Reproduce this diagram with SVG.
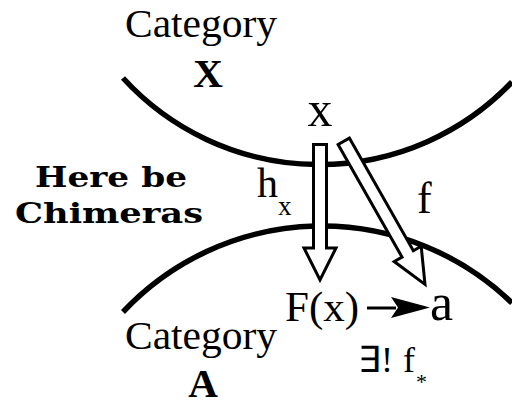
<svg xmlns="http://www.w3.org/2000/svg" width="512" height="405" viewBox="0 0 512 405">
<style>
.t{font-family:'Liberation Serif','Times New Roman',serif;fill:#000}
.b{font-weight:bold}
.frak{font-family:'DejaVu Serif',serif;font-weight:bold;fill:#000}
.bound{fill:none;stroke:#000;stroke-width:5.5}
.blk{fill:#fff;stroke:#000;stroke-width:3;stroke-linejoin:miter}
</style>
<rect width="512" height="405" fill="#fff"/>
<g id="boundaries">
<path class="bound" d="M123,78 A266,266 0 0 0 512,82"/>
<path class="bound" d="M123,312 A273,273 0 0 1 512,303"/>
</g>
<g id="categoryX">
<text class="t" x="201" y="37" font-size="40" text-anchor="middle" textLength="152" lengthAdjust="spacingAndGlyphs">Category</text>
<text class="t b" x="208" y="87" font-size="41" text-anchor="middle">X</text>
</g>
<g id="categoryA">
<text class="t" x="201" y="349" font-size="40" text-anchor="middle" textLength="152" lengthAdjust="spacingAndGlyphs">Category</text>
<text class="t b" x="203" y="397" font-size="41" text-anchor="middle">A</text>
</g>
<g id="chimeras">
<text class="frak" x="35" y="187" font-size="28" textLength="152" lengthAdjust="spacingAndGlyphs">Here be</text>
<text class="frak" x="15" y="223" font-size="28" textLength="188" lengthAdjust="spacingAndGlyphs">Chimeras</text>
</g>
<g id="node-x">
<text class="t" x="320" y="126" font-size="50" text-anchor="middle">x</text>
</g>
<g id="node-Fx">
<text class="t" x="285" y="321" font-size="43">F(x)</text>
</g>
<g id="node-a">
<text class="t" x="430" y="320" font-size="52">a</text>
</g>
<g id="connectors">
<path class="blk" d="M313.5,144.5 L326.5,144.5 L326.5,248 L336,248 L320,280 L304,248 L313.5,248 Z"/>
<path class="blk" transform="translate(343,140) rotate(-29.6)" d="M-6.5,1.5 L6.5,1.5 L6.5,131 L15.5,131 L0,166 L-15.5,131 L-6.5,131 Z"/>
<line x1="367" y1="308" x2="396" y2="308" stroke="#000" stroke-width="3"/>
<path d="M430,307.5 L391,297 L398,307.5 L391,318 Z" fill="#000"/>
</g>
<g id="labels">
<text class="t" x="257" y="197" font-size="42">h</text>
<text class="t" x="278" y="215" font-size="27">x</text>
<text class="t" x="417" y="213" font-size="44">f</text>
<text class="t" x="358" y="372" font-size="36">∃!</text>
<text class="t" x="403" y="372" font-size="36">f</text>
<text class="t" x="416" y="389" font-size="22">*</text>
</g>
</svg>
